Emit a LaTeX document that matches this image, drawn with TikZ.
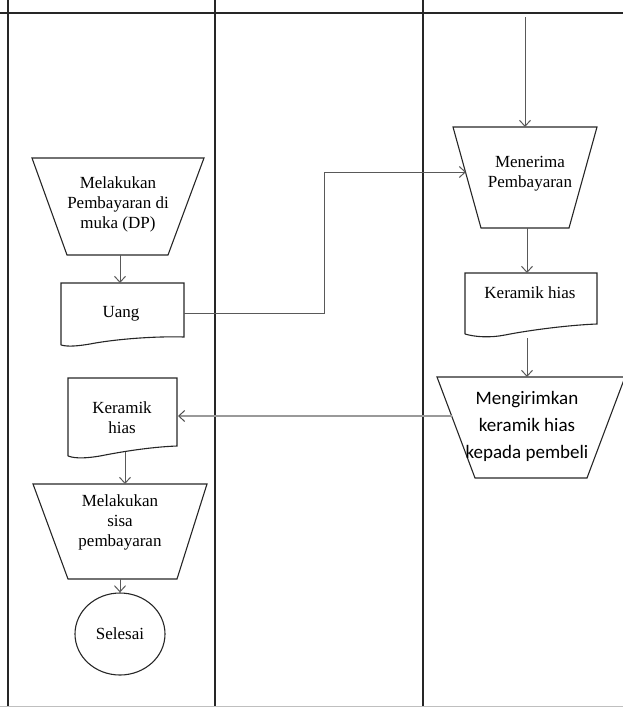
\documentclass[tikz,border=0pt]{standalone}
\usepackage{fontspec}
\setmainfont{Liberation Serif}
\newfontfamily\calibrifont{Carlito}
\usetikzlibrary{arrows.meta,shapes.geometric}
\tikzset{
  lane/.style={draw=black!85, line width=1.5pt},
  shapeline/.style={draw=black!85, line width=1.1pt},
  flow/.style={draw=black!65, line width=1pt, -{Straight Barb[length=6pt,width=11pt,line width=1pt]}},
  flowgray/.style={draw=black!40, line width=2pt, -{Straight Barb[length=6pt,width=11pt,line width=1pt,color=black!70]}},
  serif/.style={font=\fontsize{17}{20}\selectfont, align=center, inner sep=0pt},
  sans/.style={font=\calibrifont\fontsize{19}{27}\selectfont, align=center, inner sep=0pt},
}
\begin{document}
\begin{tikzpicture}[x=1pt,y=-1pt]
\useasboundingbox (0,0) rectangle (623,707);
% swimlane lines
\draw[lane] (0,13) -- (623,13);
\draw[lane] (8,0) -- (8,707);
\draw[lane] (215,0) -- (215,707);
\draw[lane] (423,0) -- (423,707);
\draw[draw=black!25, line width=1pt] (0,706) -- (623,706);

% Trapezoid 1: Melakukan Pembayaran di muka (DP)
\draw[shapeline] (32,158) -- (204,158) -- (168,255) -- (67,255) -- cycle;
\node[serif] (t1) at (118,204) {Melakukan\\Pembayaran di\\muka (DP)};
\coordinate (t1b) at (120,255);

% Document: Uang
\draw[shapeline] (61,345) -- (61,283) -- (184,283) -- (184,337)
  .. controls (150,336) and (110,340) .. (90,344) .. controls (78,346) and (68,347) .. (61,345);
\node[serif] (uang) at (121,314) {Uang};
\coordinate (uangt) at (120,283);
\coordinate (uangr) at (184,313);
\coordinate (bend1) at (324,313);
\coordinate (bend2) at (324,172);

% Trapezoid: Menerima Pembayaran
\draw[shapeline] (453,127) -- (597,127) -- (569,228) -- (481,228) -- cycle;
\node[serif] (t2) at (530,174) {Menerima\\Pembayaran};
\coordinate (t2t) at (525,127);
\coordinate (t2b) at (527,228);
\coordinate (t2l) at (466,172);
\coordinate (topin) at (525,17);

% Document: Keramik hias (right)
\draw[shapeline] (465,334) -- (465,273) -- (597,273) -- (597,324)
  .. controls (570,325) and (530,330) .. (505,335) .. controls (490,338) and (475,337) .. (465,334);
\node[serif] (k2) at (530,293) {Keramik hias};
\coordinate (k2t) at (527,273);
\coordinate (k2b) at (527,338);

% Trapezoid: Mengirimkan keramik hias kepada pembeli
\draw[shapeline] (437,377) -- (625,377) -- (587,478) -- (475,478) -- cycle;
\node[sans] (t3) at (527,426) {Mengirimkan\\keramik hias\\kepada pembeli};
\coordinate (t3t) at (527,377);
\coordinate (t3l) at (452,416);

% Document: Keramik hias (left)
\draw[shapeline] (68,456) -- (68,378) -- (177,378) -- (177,446)
  .. controls (150,447) and (120,452) .. (100,456) .. controls (88,458) and (76,459) .. (68,456);
\node[serif] (k1) at (122,418) {Keramik\\hias};
\coordinate (k1r) at (178,416);
\coordinate (k1b) at (125,452);

% Trapezoid: Melakukan sisa pembayaran
\draw[shapeline] (33,484) -- (207,484) -- (177,579) -- (68,579) -- cycle;
\node[serif] (t4) at (120,522) {Melakukan\\sisa\\pembayaran};
\coordinate (t4t) at (125,484);
\coordinate (t4b) at (120,579);

% Terminator: Selesai
\node[shapeline, ellipse, minimum width=90pt, minimum height=82pt, inner sep=0pt, draw, font=\fontsize{17}{20}\selectfont] (end) at (120,634) {Selesai};

% Connectors
\draw[flow] (topin) -- (t2t);
\draw[flow] (t1b) -- (uangt);
\draw[flow] (uangr) -- (bend1) -- (bend2) -- (t2l);
\draw[flow] (t2b) -- (k2t);
\draw[flow] (k2b) -- (t3t);
\draw[flowgray] (t3l) -- (k1r);
\draw[flow] (k1b) -- (t4t);
\draw[flow] (t4b) -- (end.north);
\end{tikzpicture}
\end{document}
